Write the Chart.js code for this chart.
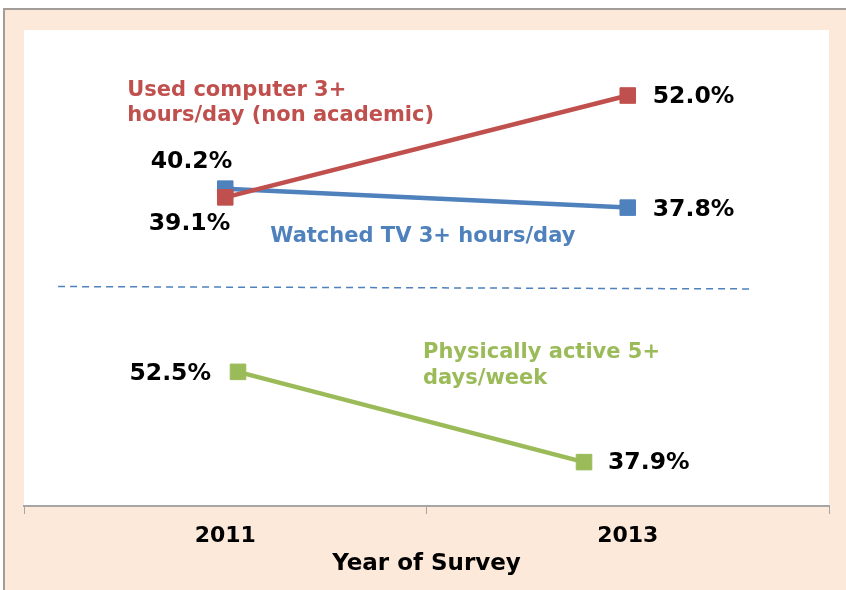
<!DOCTYPE html>
<html>
<head>
<meta charset="utf-8">
<script src="https://cdn.jsdelivr.net/npm/chart.js@4.4.1/dist/chart.umd.min.js"></script>
<style>
  html, body { margin: 0; padding: 0; background: #fff; }
  #frame {
    position: absolute; left: 3px; top: 8px; width: 843px; height: 582px;
    box-sizing: border-box; background: #FDE9D9;
    border-top: 2px solid #a39d99; border-left: 2px solid #a39d99;
  }
  canvas { display: block; }
</style>
</head>
<body>
<div id="frame"><canvas id="chart" width="841" height="580"></canvas></div>
<script>
// survey data
const years = ['2011', '2013'];
const computerValues = [39.1, 52.0];
const tvValues = [40.2, 37.8];
const activeYears = [2011, 2013];
const activeValues = [52.5, 37.9];

// dashed separator between the two panels (in scale units)
const dividerX = [2009.96, 2013.96];
const dividerY = [27.8, 27.5];

const computerName = ['Used computer 3+', 'hours/day (non academic)'];
const tvName = ['Watched TV 3+ hours/day'];
const activeName = ['Physically active 5+', 'days/week'];

const RED = '#C0504D', BLUE = '#4F81BD', GREEN = '#9BBB59';
const FONT = '"DejaVu Sans", Verdana, sans-serif';
Chart.defaults.font.family = FONT;

// [dataset, point, dx, dy, align]
const pctLabels = [
  [0, 0, 5, 33, 'right'],
  [0, 1, 25, 7, 'left'],
  [1, 0, 7, -21, 'right'],
  [1, 1, 25, 8.5, 'left'],
  [2, 0, -27, 8, 'right'],
  [2, 1, 24, 7, 'left']
];
// [dataset, point, dx, dy, lineGap, lines, colour]
const nameLabels = [
  [0, 0, -98, -101, 25, computerName, RED],
  [1, 0, 45, 53, 0, tvName, BLUE],
  [2, 0, 185, -14, 26, activeName, GREEN]
];

const labelPlugin = {
  id: 'labelPlugin',
  beforeDraw(chart) {
    const { ctx, chartArea: a } = chart;
    ctx.save();
    ctx.fillStyle = '#fff';
    ctx.fillRect(a.left, a.top, a.right - a.left, a.bottom - a.top);
    ctx.restore();
  },
  afterDatasetsDraw(chart) {
    const ctx = chart.ctx;
    ctx.save();
    ctx.textBaseline = 'alphabetic';
    ctx.font = 'bold 23.5px ' + FONT;
    ctx.fillStyle = '#000';
    pctLabels.forEach(([d, i, dx, dy, align]) => {
      const pt = chart.getDatasetMeta(d).data[i];
      const raw = chart.data.datasets[d].data[i];
      const val = typeof raw === 'object' ? raw.y : raw;
      ctx.textAlign = align;
      ctx.fillText(val.toFixed(1) + '%', pt.x + dx, pt.y + dy);
    });
    ctx.font = 'bold 21px ' + FONT;
    ctx.textAlign = 'left';
    nameLabels.forEach(([d, i, dx, dy, gap, lines, col]) => {
      const pt = chart.getDatasetMeta(d).data[i];
      ctx.fillStyle = col;
      lines.forEach((t, k) => ctx.fillText(t, pt.x + dx, pt.y + dy + k * gap));
    });
    ctx.restore();
  }
};

const lineStyle = (col) => ({
  borderColor: col,
  backgroundColor: col,
  pointBackgroundColor: col,
  pointBorderColor: col,
  borderWidth: 4.5,
  pointStyle: 'rect',
  pointRadius: 11,
  pointBorderWidth: 1,
  tension: 0
});

new Chart(document.getElementById('chart'), {
  type: 'line',
  data: {
    labels: years,
    datasets: [
      Object.assign({ label: computerName.join(' '), data: computerValues, xAxisID: 'x', yAxisID: 'y' }, lineStyle(RED)),
      Object.assign({ label: tvName.join(' '), data: tvValues, xAxisID: 'x', yAxisID: 'y' }, lineStyle(BLUE)),
      Object.assign({
        label: activeName.join(' '),
        data: activeYears.map((x, i) => ({ x: x, y: activeValues[i] })),
        xAxisID: 'x2', yAxisID: 'y2'
      }, lineStyle(GREEN)),
      {
        label: 'divider',
        data: dividerX.map((x, i) => ({ x: x, y: dividerY[i] })),
        xAxisID: 'x2', yAxisID: 'y',
        borderColor: BLUE,
        borderWidth: 1.5,
        borderDash: [7, 5],
        pointRadius: 0
      }
    ]
  },
  options: {
    responsive: false,
    animation: false,
    layout: { padding: { left: 19, top: 20, right: 17, bottom: 6 } },
    plugins: { legend: { display: false }, tooltip: { enabled: false } },
    scales: {
      x: {
        type: 'category',
        offset: true,
        grid: { offset: true, drawOnChartArea: false, drawTicks: true, tickLength: 8, color: '#a6a6a6', lineWidth: 1 },
        border: { display: true, color: '#a6a6a6', width: 2 },
        ticks: { color: '#000', padding: 9, font: { size: 22, weight: 'bold' } },
        title: {
          display: true, text: 'Year of Survey', color: '#000',
          font: { size: 23, weight: 'bold' }, padding: { top: -8, bottom: 6 }
        }
      },
      x2: { type: 'linear', display: false, min: 2009.763, max: 2014.416 },
      y: { display: false, min: 0, max: 60.3 },
      y2: { display: false, min: 30.8, max: 107.8 }
    }
  },
  plugins: [labelPlugin]
});
</script>
</body>
</html>
